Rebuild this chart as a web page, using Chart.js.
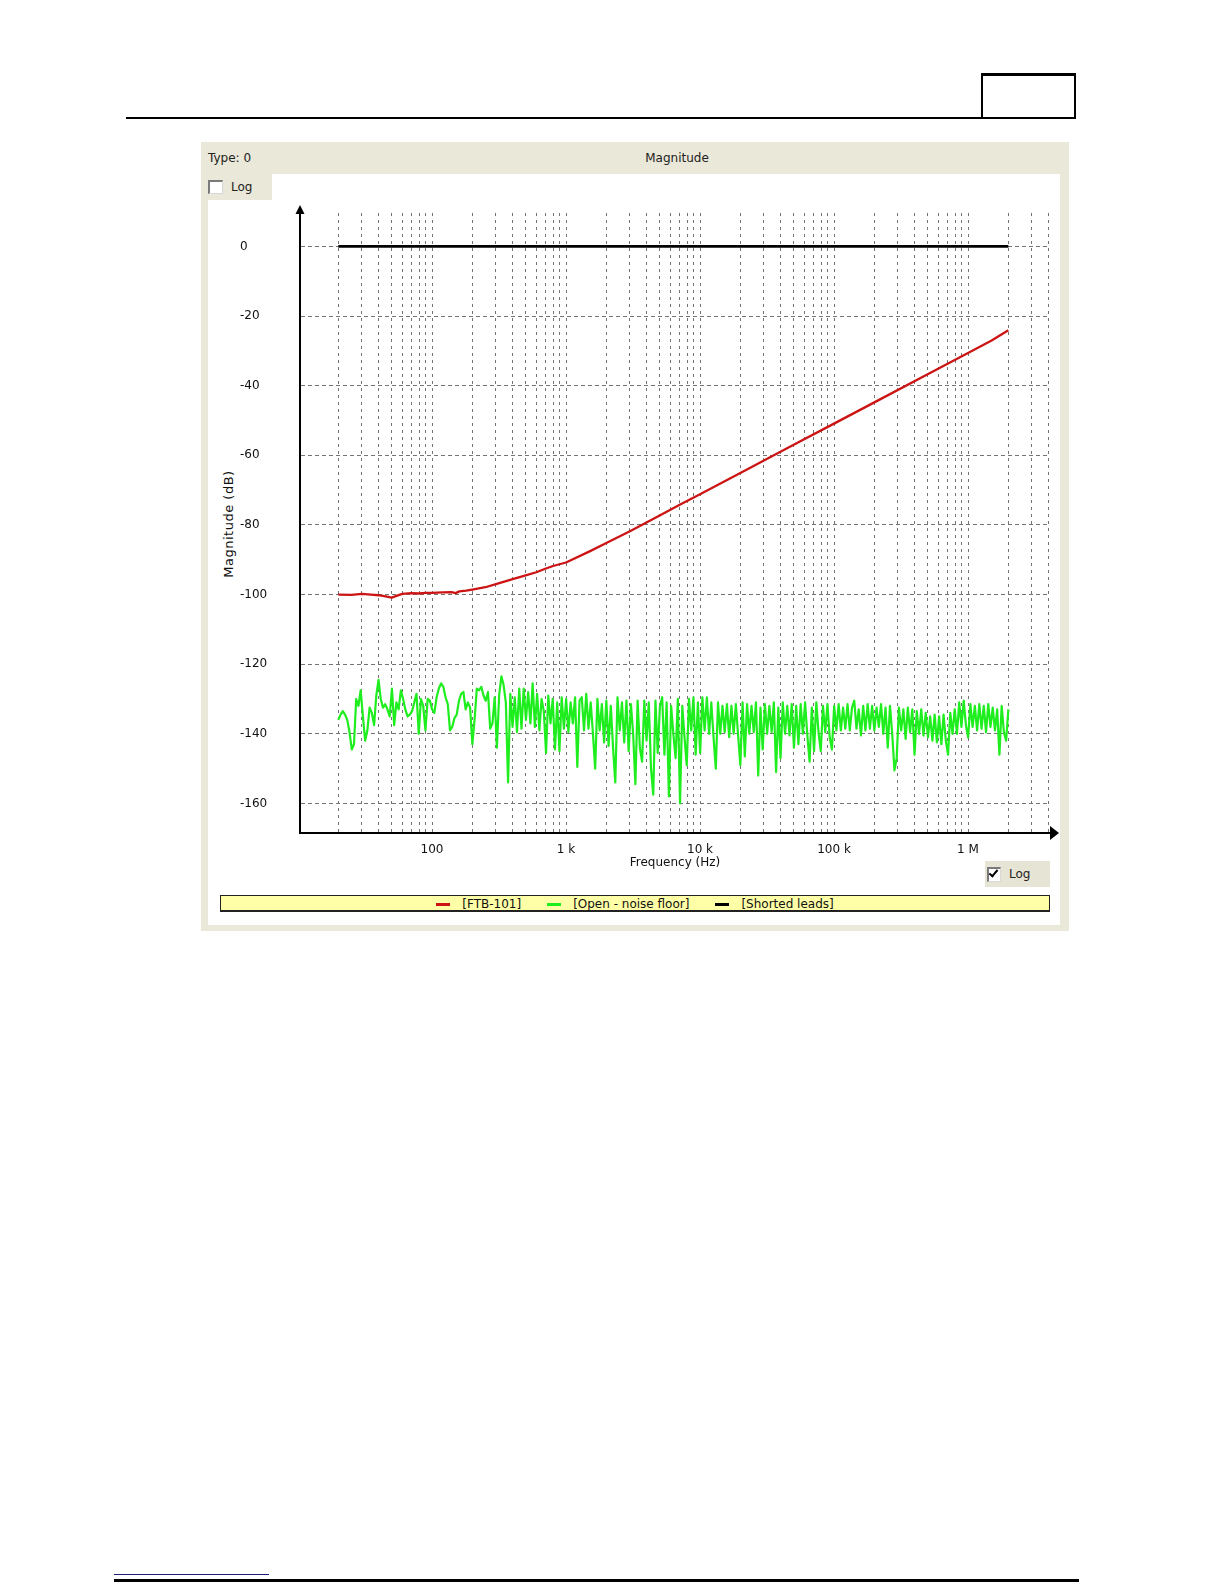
<!DOCTYPE html>
<html>
<head>
<meta charset="utf-8">
<script src="https://cdn.jsdelivr.net/npm/chart.js@4.4.1/dist/chart.umd.min.js"></script>
<style>
html,body{margin:0;padding:0;background:#fff;}
body{width:1224px;height:1584px;position:relative;overflow:hidden;font-family:"DejaVu Sans",sans-serif;}
.a{position:absolute;box-sizing:border-box;}
.txt{font-size:12px;line-height:14px;color:#222;white-space:nowrap;}
.cb{background:#fff;border-top:2px solid #7a7a7a;border-left:2px solid #7a7a7a;border-right:1px solid #d8d8d8;border-bottom:1px solid #d8d8d8;}
#legend{display:flex;justify-content:center;align-items:center;padding-top:2px;}
.li{display:flex;align-items:center;margin:0 13px;}
.lm{width:14px;height:3px;margin-right:12px;}
.lt{font-size:12px;line-height:14px;color:#111;white-space:nowrap;}
</style>
</head>
<body>
<!-- page header -->
<div class="a" style="left:126px;top:117px;width:950px;height:2px;background:#000;"></div>
<div class="a" style="left:981px;top:73px;width:95px;height:45px;border-top:3px solid #000;border-left:2px solid #000;border-right:2px solid #000;"></div>
<!-- page footer -->
<div class="a" style="left:114px;top:1574px;width:155px;height:1px;background:#1c1c7a;"></div>
<div class="a" style="left:114px;top:1579px;width:965px;height:3px;background:#000;"></div>

<!-- panel -->
<div class="a" style="left:201px;top:142px;width:868px;height:789px;background:#EAE8D8;"></div>
<div class="a" style="left:208px;top:174px;width:852px;height:751px;background:#fff;"></div>
<div class="a" style="left:201px;top:174px;width:71px;height:26px;background:#EAE8D8;"></div>
<div class="a txt" style="left:208px;top:151px;">Type: 0</div>
<div class="a txt" style="left:577px;top:151px;width:200px;text-align:center;">Magnitude</div>
<div class="a cb" style="left:208px;top:180px;width:15px;height:14px;"></div>
<div class="a txt" style="left:231px;top:180px;">Log</div>

<div class="a" style="left:985px;top:861px;width:65px;height:26px;background:#E6E4D4;"></div>
<div class="a cb" style="left:987px;top:867px;width:14px;height:15px;"></div>
<div class="a" style="left:991px;top:868px;width:5px;height:9px;border-right:2.5px solid #000;border-bottom:2.5px solid #000;transform:rotate(40deg);"></div>
<div class="a txt" style="left:1009px;top:867px;">Log</div>

<div class="a txt" style="left:149px;top:517px;width:160px;text-align:center;font-size:13px;letter-spacing:0.5px;color:#111;transform:rotate(-90deg);">Magnitude (dB)</div>

<div id="legend" class="a" style="left:220px;top:895px;width:830px;height:17px;background:#FFFFA8;border:1px solid #222;border-bottom-width:2px;"></div>

<canvas id="c" class="a" width="1224" height="900" style="left:0;top:0;width:1224px;height:900px;"></canvas>

<script>
// ---------------- data ----------------
const seriesNames = ['[FTB-101]', '[Open - noise floor]', '[Shorted leads]'];
const seriesColors = ['#CC1414', '#1EEE1E', '#000000'];

const xTickValues = [100, 1000, 10000, 100000, 1000000];
const xTickLabels = ['100', '1 k', '10 k', '100 k', '1 M'];
const yTickValues = [0, -20, -40, -60, -80, -100, -120, -140, -160];

// FTB-101 magnitude (dB) vs frequency (Hz)
const ftbFreq = [20, 25, 30, 35, 40, 45, 50, 55, 60, 70, 80, 90, 100, 120, 140, 150, 160, 180, 200, 250,
                 300, 400, 500, 600, 700, 800, 1000, 1500, 2000, 3000, 5000, 7000, 10000, 20000, 50000,
                 100000, 200000, 500000, 1000000, 1500000, 2000000];
const ftbMag = [-100, -100.1, -99.8, -100, -100.2, -100.5, -100.9, -100.3, -99.8, -99.6, -99.7, -99.5, -99.5, -99.4, -99.3, -99.6, -99.1, -98.9, -98.6, -97.9,
                -97.0, -95.6, -94.5, -93.6, -92.6, -91.8, -90.8, -87.6, -85.2, -81.8, -77.3, -74.3, -71.2, -65.1, -57.0,
                -50.9, -44.8, -36.7, -30.6, -27.0, -24.1];

// Shorted leads
const shortedFreq = [20, 100, 1000, 10000, 100000, 1000000, 2000000];
const shortedMag = [0, 0, 0, 0, 0, 0, 0];

// Open - noise floor: sweep from 20 Hz, 60 points per decade, to 2 MHz
const noiseStartHz = 20;
const noisePointsPerDecade = 60;
const noiseMag = [
  -136, -134.5, -133.5, -134.5, -136, -139.5, -144.5, -143, -130, -132,
  -127.5, -135, -142, -139, -132.5, -134, -137.5, -129, -124.5, -130,
  -132.5, -131.5, -133, -135, -127, -137.5, -131, -133, -127.5, -130,
  -133, -135, -134.5, -133.5, -131, -128.5, -140, -130, -132, -139,
  -130, -130.5, -133, -134, -129.5, -127, -125.5, -126.5, -129.5, -131.5,
  -139, -138, -135.5, -134.5, -130.5, -128.5, -128, -133, -131, -132.5,
  -143, -136, -127, -127.5, -126.5, -129, -130.5, -128, -138.5, -137,
  -129.5, -144, -129, -123.5, -126, -131, -154,
  -128.5, -138, -129.5, -139.5, -127, -138.5, -127, -136, -128, -137,
  -125.5, -138, -128.5, -139, -130, -133.5, -145.5, -129, -137, -130,
  -144.5, -131, -145, -129.5, -138.5, -130, -139.5, -131, -137, -129.5,
  -149.5, -130.5, -129.5, -139, -128.5, -138.5, -131, -140, -150, -130,
  -139, -131.5, -142.5, -130.5, -143.5, -132, -144, -154, -129.5, -139,
  -131, -142.5, -130.5, -145, -131.5, -140, -154.5, -130.5, -144, -148,
  -130.5, -142, -131, -150, -157.5, -130.5, -145.5, -132, -129.5, -146,
  -131, -158, -132, -140, -147, -130, -160, -132, -141,
  -149, -130, -139, -129.5, -146, -131, -145.5, -129.5, -139, -129.5,
  -140, -131, -141, -150, -131, -140, -132, -139.5, -131.5, -141,
  -132, -140, -131.5, -140.5, -149, -131, -146.5, -131.5, -140, -132,
  -139.5, -131, -152, -132.5, -144.5, -131.5, -140, -132, -139.5, -131,
  -151, -132.5, -147, -131, -140, -132, -140.5, -131.5, -144, -132,
  -143, -131.5, -140, -131, -140.5, -148, -132.5, -145, -131, -139.5,
  -145, -132, -139.5, -131.5, -141, -144.5, -132, -139, -131.5, -139,
  -132.5, -138.5, -131.5, -139, -132.5, -130.5, -138.5, -133,
  -140.5, -132, -139, -131.5, -138.5, -132, -139, -132.5, -138, -131.5,
  -140, -132.5, -144, -132, -140, -150.5, -147, -132.5, -139, -133,
  -141.5, -132.5, -139.5, -133, -146, -133.5, -140, -133, -140.5, -134,
  -141, -135, -142, -134.5, -142.5, -135, -143, -134.5, -142, -146,
  -134, -140, -133, -140, -131, -138, -130.5, -137.5, -141, -131.5,
  -138, -132, -139, -131.5, -138.5, -132, -139.5, -131.5, -138, -132.5,
  -139, -133, -146, -132, -139.5, -142, -133
];
const noiseFreq = noiseMag.map((_, i) => noiseStartHz * Math.pow(10, i / noisePointsPerDecade));

// vertical grid positions: 1..9 x each decade, inside the plotted range
const xGridValues = [];
for (let d = 1; d <= 6; d++) {
  for (let m = 1; m <= 9; m++) {
    const v = m * Math.pow(10, d);
    if (v >= 20 && v <= 4000000) xGridValues.push(v);
  }
}

// ---------------- legend (HTML) ----------------
const legendEl = document.getElementById('legend');
seriesNames.forEach((n, i) => {
  const item = document.createElement('div'); item.className = 'li';
  const mk = document.createElement('div'); mk.className = 'lm'; mk.style.background = seriesColors[i];
  const tx = document.createElement('div'); tx.className = 'lt'; tx.textContent = n;
  item.appendChild(mk); item.appendChild(tx); legendEl.appendChild(item);
});

// ---------------- chart ----------------
const font12 = {family: 'DejaVu Sans', size: 12};
function mkDataset(label, color, width, freqs, mags) {
  return {
    label: label,
    data: freqs.map((f, i) => ({x: f, y: mags[i]})),
    borderColor: color, backgroundColor: color, borderWidth: width,
    pointRadius: 0, pointHoverRadius: 0, fill: false, tension: 0,
    borderJoinStyle: 'round', borderCapStyle: 'butt'
  };
}

const axisArrows = {
  id: 'axisArrows',
  afterDraw(chart) {
    const {ctx, chartArea: a} = chart;
    ctx.save();
    ctx.fillStyle = '#000'; ctx.strokeStyle = '#000'; ctx.lineWidth = 2;
    ctx.beginPath(); ctx.moveTo(a.left, a.top + 1); ctx.lineTo(a.left, a.top - 3); ctx.stroke();
    ctx.beginPath();
    ctx.moveTo(a.left, a.top - 8); ctx.lineTo(a.left - 4.5, a.top + 1); ctx.lineTo(a.left + 4.5, a.top + 1);
    ctx.closePath(); ctx.fill();
    ctx.beginPath();
    ctx.moveTo(a.right + 9, a.bottom); ctx.lineTo(a.right, a.bottom - 7); ctx.lineTo(a.right, a.bottom + 7);
    ctx.closePath(); ctx.fill();
    ctx.restore();
  }
};

new Chart(document.getElementById('c'), {
  type: 'line',
  data: {
    datasets: [
      mkDataset(seriesNames[1], seriesColors[1], 2.2, noiseFreq, noiseMag),
      mkDataset(seriesNames[0], seriesColors[0], 2.3, ftbFreq, ftbMag),
      mkDataset(seriesNames[2], seriesColors[2], 2.6, shortedFreq, shortedMag)
    ]
  },
  options: {
    responsive: false, animation: false, devicePixelRatio: 1, events: [],
    layout: {padding: {left: 240, top: 213, right: 174, bottom: 30}},
    plugins: {legend: {display: false}, tooltip: {enabled: false}, title: {display: false}},
    scales: {
      x: {
        type: 'logarithmic', position: 'bottom', min: 10.35, max: 4091000, bounds: 'data',
        afterBuildTicks: s => { s.ticks = xGridValues.map(v => ({value: v})); },
        afterFit: s => { s.height = 37; },
        ticks: {
          autoSkip: false, maxRotation: 0, minRotation: 0, padding: 10, color: '#111', font: font12,
          callback: function (v) {
            const k = xTickValues.findIndex(t => Math.abs(t - v) / t < 1e-6);
            return k >= 0 ? xTickLabels[k] : '';
          }
        },
        grid: {color: '#747474', lineWidth: 1, drawTicks: false},
        border: {display: true, color: '#000', width: 2, dash: [3, 4]},
        title: {display: true, text: 'Frequency (Hz)', color: '#111', font: font12, padding: {top: 0, bottom: 0}}
      },
      y: {
        type: 'linear', position: 'left', min: -168.5, max: 9.6, bounds: 'data',
        afterBuildTicks: s => { s.ticks = yTickValues.map(v => ({value: v})); },
        afterFit: s => { s.width = 60; },
        ticks: {crossAlign: 'far', padding: 0, color: '#111', font: font12},
        grid: {color: '#747474', lineWidth: 1, drawTicks: false},
        border: {display: true, color: '#000', width: 2, dash: [4, 3]},
        title: {display: false}
      }
    }
  },
  plugins: [axisArrows]
});
</script>
</body>
</html>
